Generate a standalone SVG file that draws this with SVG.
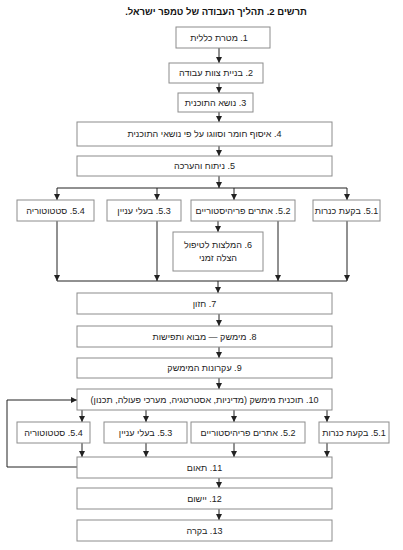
<svg xmlns="http://www.w3.org/2000/svg" width="403" height="550" viewBox="0 0 403 550">
<style>
.b{fill:#fff;stroke:#8c8c8c;stroke-width:1}
.t{font-family:"Liberation Sans","DejaVu Sans",sans-serif;font-size:9px;fill:#222;text-anchor:middle;direction:rtl;unicode-bidi:embed}
.ttl{font-family:"Liberation Sans","DejaVu Sans",sans-serif;font-size:9.5px;font-weight:bold;fill:#111;text-anchor:middle;direction:rtl;unicode-bidi:embed}
.c{fill:none;stroke:#222;stroke-width:1}
.a{marker-end:url(#ah)}
</style>
<defs>
<marker id="ah" markerUnits="userSpaceOnUse" markerWidth="6" markerHeight="7" refX="6" refY="3" orient="auto">
<path d="M0,0 L6,3 L0,6 Z" fill="#222"/>
</marker>
</defs>
<rect width="403" height="550" fill="#fff"/>
<text class="ttl" x="216" y="15">תרשים 2. תהליך העבודה של טמפר ישראל.</text>
<g id="connectors">
<line class="c a" x1="219" y1="48" x2="219" y2="63"/>
<line class="c a" x1="219" y1="83" x2="219" y2="93"/>
<line class="c a" x1="219" y1="112" x2="219" y2="122"/>
<line class="c a" x1="219" y1="146" x2="219" y2="156"/>
<line class="c a" x1="219" y1="176" x2="219" y2="188"/>
<line class="c" x1="57" y1="188" x2="347" y2="188"/>
<line class="c a" x1="57" y1="188" x2="57" y2="200"/>
<line class="c a" x1="157" y1="188" x2="157" y2="200"/>
<line class="c a" x1="234" y1="188" x2="234" y2="200"/>
<line class="c a" x1="347" y1="188" x2="347" y2="200"/>
<line class="c a" x1="218" y1="221" x2="218" y2="232"/>
<line class="c a" x1="57" y1="221" x2="57" y2="281"/>
<line class="c a" x1="157" y1="221" x2="157" y2="281"/>
<line class="c a" x1="278" y1="221" x2="278" y2="281"/>
<line class="c a" x1="347" y1="221" x2="347" y2="281"/>
<line class="c" x1="57" y1="281" x2="347" y2="281"/>
<line class="c a" x1="218" y1="281" x2="218" y2="293"/>
<line class="c a" x1="219" y1="314" x2="219" y2="326"/>
<line class="c a" x1="219" y1="347" x2="219" y2="358"/>
<line class="c a" x1="219" y1="378" x2="219" y2="389"/>
<line class="c a" x1="82" y1="410" x2="82" y2="422"/>
<line class="c a" x1="146" y1="410" x2="146" y2="422"/>
<line class="c a" x1="234" y1="410" x2="234" y2="422"/>
<line class="c a" x1="327" y1="410" x2="327" y2="422"/>
<line class="c a" x1="82" y1="443" x2="82" y2="457"/>
<line class="c a" x1="146" y1="443" x2="146" y2="457"/>
<line class="c a" x1="234" y1="443" x2="234" y2="457"/>
<line class="c a" x1="327" y1="443" x2="327" y2="457"/>
<polyline class="c a" points="77,467 7,467 7,400 77,400"/>
<line class="c a" x1="219" y1="478" x2="219" y2="488"/>
<line class="c a" x1="219" y1="509" x2="219" y2="520"/>
</g>
<g id="n1"><rect class="b" x="176" y="27" width="94" height="21"/><text class="t" x="219" y="41">1. מטרת כללית</text></g>
<g id="n2"><rect class="b" x="169" y="63" width="94" height="20"/><text class="t" x="216" y="76">2. בניית צוות עבודה</text></g>
<g id="n3"><rect class="b" x="178" y="93" width="75" height="19"/><text class="t" x="215.5" y="106">3. נושא התוכנית</text></g>
<g id="n4"><rect class="b" x="77" y="122" width="255" height="24"/><text class="t" x="204.5" y="137">4. איסוף חומר וסווגו על פי נושאי התוכנית</text></g>
<g id="n5"><rect class="b" x="77" y="156" width="255" height="20"/><text class="t" x="204.5" y="169">5. ניתוח והערכה</text></g>
<g id="n54a"><rect class="b" x="17" y="200" width="77" height="21"/><text class="t" x="55.5" y="214">5.4. סטטוטוריה</text></g>
<g id="n53a"><rect class="b" x="107" y="200" width="74" height="21"/><text class="t" x="144" y="214">5.3. בעלי עניין</text></g>
<g id="n52a"><rect class="b" x="191" y="200" width="104" height="21"/><text class="t" x="243" y="214">5.2. אתרים פריהיסטוריים</text></g>
<g id="n51a"><rect class="b" x="313" y="200" width="67" height="21"/><text class="t" x="346.5" y="214">5.1. בקעת כנרות</text></g>
<g id="n6"><rect class="b" x="173" y="232" width="90" height="39"/><text class="t" x="218" y="248">6. המלצות לטיפול</text><text class="t" x="218" y="261">הצלה זמני</text></g>
<g id="n7"><rect class="b" x="77" y="293" width="255" height="21"/><text class="t" x="204.5" y="307">7. חזון</text></g>
<g id="n8"><rect class="b" x="77" y="326" width="255" height="21"/><text class="t" x="204.5" y="340">8. מימשק — מבוא ותפישות</text></g>
<g id="n9"><rect class="b" x="77" y="358" width="255" height="20"/><text class="t" x="204.5" y="371">9. עקרונות המימשק</text></g>
<g id="n10"><rect class="b" x="77" y="389" width="255" height="21"/><text class="t" x="204.5" y="403">10. תוכנית מימשק (מדיניות, אסטרטגיה, מערכי פעולה, תכנון)</text></g>
<g id="n54b"><rect class="b" x="17" y="422" width="73" height="21"/><text class="t" x="53.5" y="436">5.4. סטטוטוריה</text></g>
<g id="n53b"><rect class="b" x="104" y="422" width="83" height="21"/><text class="t" x="145.5" y="436">5.3. בעלי עניין</text></g>
<g id="n52b"><rect class="b" x="191" y="422" width="114" height="21"/><text class="t" x="248" y="436">5.2. אתרים פריהיסטוריים</text></g>
<g id="n51b"><rect class="b" x="319" y="422" width="70" height="21"/><text class="t" x="354" y="436">5.1. בקעת כנרות</text></g>
<g id="n11"><rect class="b" x="77" y="457" width="255" height="21"/><text class="t" x="204.5" y="471">11. תאום</text></g>
<g id="n12"><rect class="b" x="77" y="488" width="255" height="21"/><text class="t" x="204.5" y="502">12. יישום</text></g>
<g id="n13"><rect class="b" x="77" y="520" width="255" height="21"/><text class="t" x="204.5" y="534">13. בקרה</text></g>
</svg>
